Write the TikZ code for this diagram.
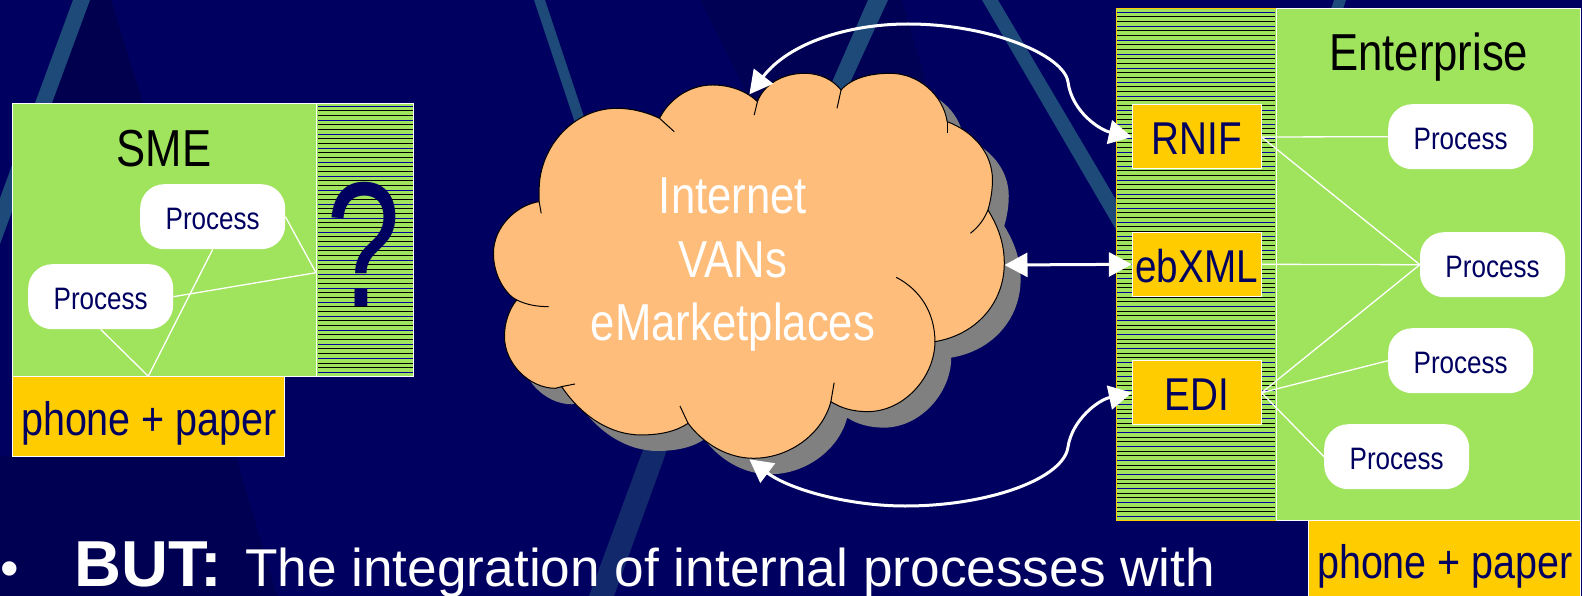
\documentclass[tikz,border=0pt]{standalone}
\usepackage{fontspec}
\setmainfont{Liberation Sans}
\newfontfamily\narrowfont[FakeStretch=0.84]{Liberation Sans}
\newfontfamily\questionfont[FakeStretch=0.75]{Liberation Sans}
\usetikzlibrary{arrows.meta}
\definecolor{slidebg}{HTML}{000060}
\definecolor{slidedark}{HTML}{00004E}
\definecolor{streak}{HTML}{1D4A78}
\definecolor{streaklow}{HTML}{12296C}
\definecolor{boxgreen}{HTML}{A0E35C}
\definecolor{boxorange}{HTML}{FFCC00}
\definecolor{cloudfill}{HTML}{FFBD7B}
\tikzset{
    panel/.style={draw=white, line width=1pt, fill=boxgreen, rectangle, inner sep=0pt},
    orangebox/.style={draw=white, line width=1pt, fill=boxorange, rectangle, inner sep=0pt, text=slidebg, text height=36pt, text depth=0pt, font=\narrowfont\fontsize{46}{50}\selectfont},
    process/.style={fill=white, rectangle, rounded corners=24pt, minimum width=145pt, minimum height=65pt, inner sep=0pt, text=slidebg, text height=25pt, text depth=0pt, font=\narrowfont\fontsize{31}{34}\selectfont},
    title/.style={anchor=base, inner sep=0pt, text=black, font=\narrowfont\fontsize{52}{60}\selectfont},
    boxtext/.style={anchor=base, inner sep=0pt, text=slidebg, font=\narrowfont\fontsize{47}{50}\selectfont},
    link/.style={draw=white, line width=1.3pt},
    flow/.style={draw=white, line width=3pt, {Triangle[length=23pt,width=24pt]}-{Triangle[length=23pt,width=24pt]}},
    cloudoutline/.style={insert path={
        (145,605) .. controls (90,615) and (33,680) .. (33,760)
        .. controls (33,830) and (65,885) .. (90,900)
        .. controls (70,930) and (60,970) .. (60,1010)
        .. controls (60,1090) and (120,1165) .. (185,1165) -- (200,1160)
        .. controls (250,1250) and (320,1305) .. (395,1305)
        .. controls (440,1305) and (480,1295) .. (510,1270)
        .. controls (550,1335) and (610,1375) .. (670,1375)
        .. controls (760,1375) and (840,1300) .. (860,1205)
        .. controls (885,1225) and (915,1235) .. (950,1235)
        .. controls (1040,1235) and (1115,1130) .. (1115,1025)
        .. controls (1215,1005) and (1285,910) .. (1285,790)
        .. controls (1285,730) and (1270,680) .. (1245,630)
        .. controls (1252,600) and (1256,570) .. (1256,540)
        .. controls (1256,460) and (1210,395) .. (1145,365)
        .. controls (1135,285) and (1075,220) .. (1005,220)
        .. controls (955,220) and (910,235) .. (885,270)
        .. controls (865,240) and (835,220) .. (795,220)
        .. controls (740,220) and (695,255) .. (680,305)
        .. controls (655,275) and (615,255) .. (570,255)
        .. controls (515,255) and (465,295) .. (440,355)
        .. controls (405,335) and (370,325) .. (335,325)
        .. controls (230,325) and (145,440) .. (145,570) -- cycle}}
}
% x1, x2, first y, number of lines
\newcommand{\hatchlines}[4]{
    \foreach \n in {0,...,#4} {
        \pgfmathtruncatemacro{\m}{mod(\n,3)}
        \ifnum\m=0 \def\c{blue!60!black}\else \def\c{black}\fi
        \draw[color=\c, line width=0.7pt] (#1,{#3+4.67*\n}) -- (#2,{#3+4.67*\n});
    }
}

\begin{document}
\begin{tikzpicture}[x=1pt, y=-1pt]
    \useasboundingbox (0,0) rectangle (1582,596);

    % background
    \fill[slidebg] (0,0) rectangle (1582,596);
    \fill[slidedark] (90,0) -- (111,0) -- (145,110) -- (40,110) -- cycle;
    \fill[slidedark!70!slidebg] (0,456) -- (236,456) -- (277,596) -- (0,596) -- cycle;
    \fill[slidedark!60!slidebg] (700,0) -- (902,0) -- (960,200) -- (800,200) -- cycle;
    \fill[streak] (73,0) -- (90,0) -- (0,244) -- (0,198) -- cycle;
    \fill[streak] (534,0) -- (545,0) -- (595,150) -- (584,150) -- cycle;
    \fill[streak] (868,0) -- (888,0) -- (843,98) -- (825,98) -- cycle;
    \fill[streak] (982,0) -- (998,0) -- (1125,215) -- (1125,245) -- cycle;
    \fill[streak] (1334,0) -- (1346,0) -- (1342,12) -- (1330,12) -- cycle;
    \fill[streaklow] (643,450) -- (667,450) -- (614,596) -- (589,596) -- cycle;

    % SME side
    \node[panel, minimum width=304.4pt, minimum height=272.7pt] (sme) at (164.5,240.3) {};
    \node[panel, minimum width=96.6pt, minimum height=272.7pt] (smegap) at (365,240.3) {};
    \hatchlines{318}{412.5}{106}{57}
    \node[orangebox, minimum width=272.7pt, minimum height=80pt] (smephone) at (148.6,416.7) {};
    \node[boxtext] (smephonetext) at (149,435) {phone + paper};
    \node[title] (smetitle) at (164,166.7) {SME};
    \node[inner sep=0pt, text=slidebg, font=\questionfont\fontsize{178}{180}\selectfont] (question) at (364,244) {?};
    \node[process] (smeproca) at (212.7,216.7) {Process};
    \node[process] (smeprocb) at (100.7,296.7) {Process};
    \coordinate (smeport) at (148.3,376.2);
    \coordinate (gapport) at (316,272.7);
    \draw[link] (smeprocb.south) -- (smeport);
    \draw[link] (smeproca.south) -- (smeport);
    \draw[link] (smeproca.east) -- (gapport);
    \draw[link] (smeprocb.east) -- (gapport);

    % cloud
    \begin{scope}[shift={(496.3,16)}, x=0.408pt, y=-0.3333pt]
        \fill[gray, cloudoutline];
    \end{scope}
    \begin{scope}[shift={(480,0)}, x=0.408pt, y=-0.3333pt]
        \draw[fill=cloudfill, draw=black, line width=1pt, cloudoutline];
        \draw[black, line width=1pt] (145,605) -- (150,640);
        \draw[black, line width=1pt] (90,900) .. controls (115,915) and (140,920) .. (168,920);
        \draw[black, line width=1pt] (200,1160) -- (233,1152);
        \draw[black, line width=1pt] (510,1270) -- (490,1218);
        \draw[black, line width=1pt] (860,1205) -- (868,1148);
        \draw[black, line width=1pt] (1115,1025) .. controls (1115,940) and (1080,870) .. (1020,832);
        \draw[black, line width=1pt] (1245,630) .. controls (1235,660) and (1222,680) .. (1202,700);
        \draw[black, line width=1pt] (1145,365) -- (1145,398);
        \draw[black, line width=1pt] (885,270) -- (875,325);
        \draw[black, line width=1pt] (680,305) -- (672,345);
        \draw[black, line width=1pt] (440,355) -- (476,395);
    \end{scope}
    \node[inner sep=0pt, align=center, text=white, font=\narrowfont\fontsize{52}{63.5}\selectfont] (cloudtext) at (733,265) {Internet\\VANs\\eMarketplaces};
    \coordinate (cloudtop) at (749.4,94.3);
    \coordinate (cloudright) at (1004.5,265);
    \coordinate (cloudbottom) at (749.4,459.3);

    % enterprise side
    \node[panel, draw=boxorange, minimum width=160pt, minimum height=512pt] (gateway) at (1196,264.5) {};
    \hatchlines{1117}{1275}{12}{108}
    \node[panel, minimum width=304pt, minimum height=511pt] (enterprise) at (1428.7,264.5) {};
    \node[orangebox, minimum width=272pt, minimum height=76pt] (entphone) at (1444.7,558.7) {};
    \node[boxtext] (entphonetext) at (1445,578) {phone + paper};
    \node[title] (enttitle) at (1428.7,70.7) {Enterprise};
    \node[orangebox, minimum width=128.7pt, minimum height=64pt] (rnif) at (1196.7,137) {RNIF};
    \node[orangebox, minimum width=128.7pt, minimum height=64pt] (ebxml) at (1196.7,264.3) {ebXML};
    \node[orangebox, minimum width=128.7pt, minimum height=64pt] (edi) at (1196.7,392.7) {EDI};
    \node[process] (procone) at (1460.7,136.7) {Process};
    \node[process] (proctwo) at (1492.5,264.7) {Process};
    \node[process] (procthree) at (1460.7,360.7) {Process};
    \node[process] (procfour) at (1396.7,456.7) {Process};
    \draw[link] (rnif.east) -- (procone.west);
    \draw[link] (rnif.east) -- (proctwo.west);
    \draw[link] (ebxml.east) -- (proctwo.west);
    \draw[link] (edi.east) -- (proctwo.west);
    \draw[link] (edi.east) -- (procthree.west);
    \draw[link] (edi.east) -- (procfour.west);

    % arrows
    \draw[flow] (cloudtop) .. controls (790,42) and (850,24) .. (908,24) .. controls (990,24) and (1064,55) .. (1068,82) .. controls (1072,112) and (1100,130) .. (rnif.west);
    \draw[flow] (cloudright) -- (ebxml.west);
    \draw[flow] (cloudbottom) .. controls (790,490) and (850,506) .. (905,506) .. controls (990,506) and (1064,478) .. (1068,447) .. controls (1072,420) and (1098,400) .. (edi.west);

    % bottom line
    \node[anchor=base west, inner sep=0pt, text=white, font=\fontsize{53}{60}\selectfont] (bullet) at (0,586) {•};
    \node[anchor=base west, inner sep=0pt, text=white, font=\bfseries\fontsize{65}{70}\selectfont] (but) at (74,586) {BUT:};
    \node[anchor=base west, inner sep=0pt, text=white, font=\fontsize{53.2}{60}\selectfont] (bottomtext) at (245,586) {The integration of internal processes with};
\end{tikzpicture}
\end{document}
